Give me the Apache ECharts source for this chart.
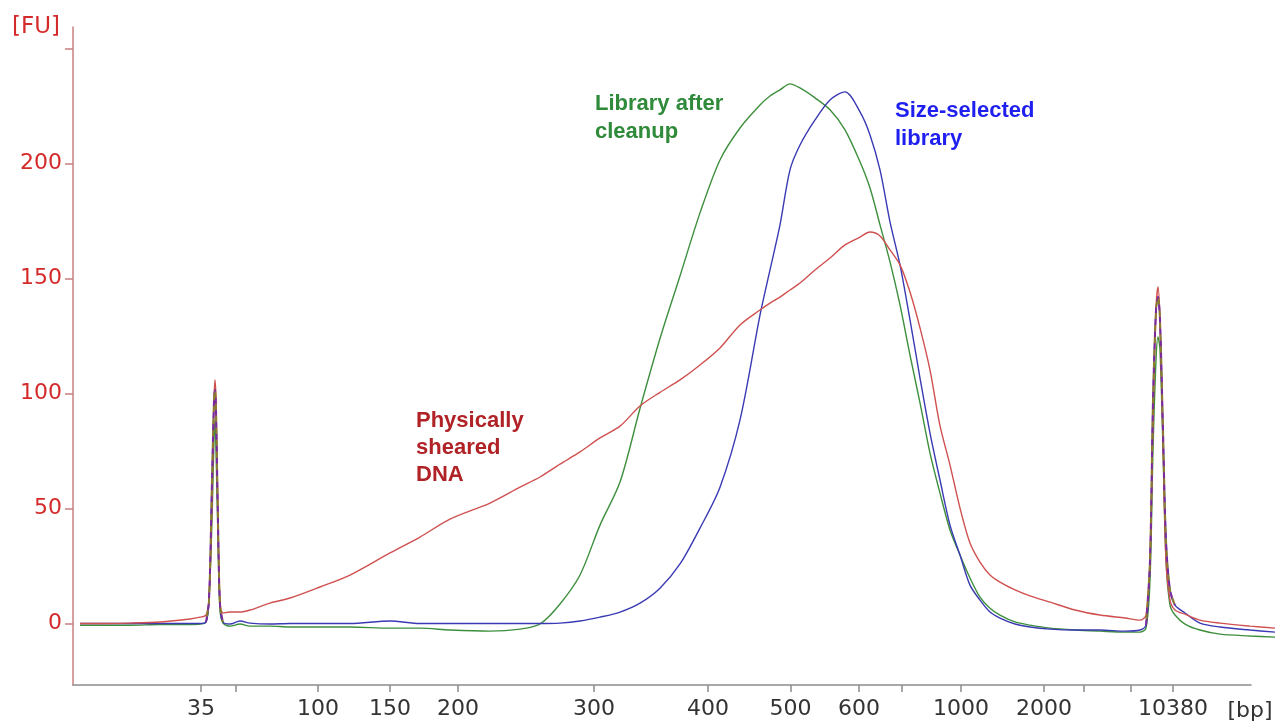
<!DOCTYPE html>
<html>
<head>
<meta charset="utf-8">
<script src="https://cdn.jsdelivr.net/npm/echarts@6/dist/echarts.min.js"></script>
<style>
html,body{margin:0;padding:0;background:#fff;}
#chart{width:1277px;height:725px;}
</style>
</head>
<body>
<div id="chart"></div>
<script>
// Migration position (data points along the run)
const dataPoints = [7,27,57,87,117,127,133,136,139,141,142,143,145,147,150,157,167,177,197,217,247,277,317,347,377,417,447,467,487,507,527,547,567,587,607,627,647,667,687,697,707,717,727,742,757,772,787,797,807,817,827,837,847,857,867,877,887,897,907,917,927,942,957,977,1002,1027,1052,1067,1073,1077,1080,1083,1085,1087,1090,1093,1097,1102,1112,1127,1147,1177,1202];

// Fluorescence [FU]
const shearedDNA = [0,0,0.2,0.7,2.0,2.8,3.7,10.2,53.7,97.2,105.9,97.2,45,10.2,4.6,5,5,5.9,8.9,11.1,15.9,21.1,30.7,37.6,45.4,52.4,59.3,63.7,69.3,74.6,80.7,85.8,94.6,100.5,105.9,112.4,119.8,129.8,136.3,139.3,141.9,145,148,153.7,158.9,164.6,168,170.2,168.5,162.4,155.9,144.1,128.5,110.2,86,68.9,50.2,35,26.7,21.1,18,14.6,12,9.3,5.9,3.7,2.4,1.5,3.7,27.6,88.5,136.3,146.3,132,79.8,27.6,10.2,5.9,4.1,1.5,0.2,-1.1,-2.0];

const libraryAfterCleanup = [-0.7,-0.7,-0.7,-0.4,-0.4,-0.2,0.7,10.2,45,79.8,88.5,75.4,36.3,5.9,0.2,-1.1,-0.2,-1.1,-1.1,-1.5,-1.5,-1.5,-2,-2,-2.8,-3.3,-2.4,-0.2,8.5,21.1,42.8,61.5,93.5,123.9,151.1,178.5,201.5,215.4,225.4,229.3,232,234.6,232.8,228.5,223.3,214.6,200.7,189.3,173.3,157.2,138.5,116.7,95.9,74.1,56.7,40.7,29.8,19.8,11.5,6.7,3.7,0.7,-0.7,-2,-2.8,-3.3,-3.7,-3.7,-2,18.9,75.4,114.6,124.6,118.9,75.4,27.6,8,3.7,-0.2,-2.8,-4.6,-5.4,-5.9];

const sizeSelectedLibrary = [0,0,0,0,0,0,0.7,10.2,62.4,97.2,101.5,92.8,45,8,0.7,-0.2,1.1,0.2,-0.2,0,0,0,1.1,0,0,0,0,0,0.2,1.1,2.8,5,8.9,15.4,25.9,41.5,59.3,88.5,134.1,153.7,173.3,197.2,208,218.9,227.6,231.1,222.4,212.4,197.2,174.6,155.9,132,106.7,82.8,62.4,42.8,29.8,16.7,10.2,5,2.4,-0.2,-1.5,-2.4,-2.8,-2.8,-3.3,-2.8,-0.7,27.6,97.2,136.3,141.9,132,84.1,36.3,14.6,8,4.6,0.2,-1.5,-2.8,-3.7];

// Size ladder tick marks on the bp axis
const tickPositions = [128,163,245,317,385,521,635,717.5,786,829,888,971,1011,1058,1100];
const tickLabels = ['35','','100','150','200','300','400','500','600','','1000','2000','','','10380'];

const yTicks = [0,50,100,150,200,250];
const yLabels = [0,50,100,150,200];

const pairs = (ys) => dataPoints.map((x, i) => [x, ys[i]]);
const ladderOnly = (ys) => dataPoints.map((x, i) =>
  ((x >= 130 && x <= 152) || (x >= 1072 && x <= 1104)) ? [x, ys[i]] : [x, null]);

const labelMap = {};
tickPositions.forEach((p, i) => { labelMap[p] = tickLabels[i]; });

const chart = echarts.init(document.getElementById('chart'), null, {renderer: 'canvas'});

const lineBase = {
  type: 'line', showSymbol: false, symbol: 'none', animation: false,
  clip: false, smooth: 0.3, silent: true,
  xAxisIndex: 0, yAxisIndex: 0
};

const Y_MIN = -26.7, Y_MAX = 259.3;

chart.setOption({
  backgroundColor: '#ffffff',
  animation: false,
  grid: [
    {left: 73, right: 0, top: 27, bottom: 40, containLabel: false},
    {left: 73, right: 26, top: 27, bottom: 40, containLabel: false}
  ],
  xAxis: [
    {type: 'value', gridIndex: 0, min: 0, max: 1204, show: false, splitLine: {show: false}},
    {
      type: 'value', gridIndex: 1, min: 0, max: 1178,
      axisLine: {show: true, onZero: false, lineStyle: {color: '#8c8c8c', width: 1.5}},
      axisTick: {show: true, customValues: tickPositions, length: 7, lineStyle: {color: '#8c8c8c', width: 1.5}},
      axisLabel: {
        customValues: tickPositions.filter((p, i) => tickLabels[i] !== ''),
        formatter: (v) => labelMap[v] || '',
        color: '#333333', fontFamily: 'DejaVu Sans', fontSize: 22, margin: 13
      },
      splitLine: {show: false}
    }
  ],
  yAxis: [
    {type: 'value', gridIndex: 0, min: Y_MIN, max: Y_MAX, show: false, splitLine: {show: false}},
    {
      type: 'value', gridIndex: 1, min: Y_MIN, max: Y_MAX,
      axisLine: {show: true, onZero: false, lineStyle: {color: '#c98080', width: 1.5}},
      axisTick: {show: true, customValues: yTicks, length: 8, lineStyle: {color: '#c98080', width: 1.5}},
      axisLabel: {
        customValues: yLabels,
        color: '#d42a2a', fontFamily: 'DejaVu Sans', fontSize: 22, margin: 11
      },
      splitLine: {show: false}
    }
  ],
  series: [
    Object.assign({}, lineBase, {name: 'Library after cleanup', data: pairs(libraryAfterCleanup),
      lineStyle: {color: '#3d8f3d', width: 1.4}, z: 2}),
    Object.assign({}, lineBase, {name: 'Size-selected library', data: pairs(sizeSelectedLibrary),
      lineStyle: {color: '#3a3ab4', width: 1.4}, z: 3}),
    Object.assign({}, lineBase, {name: 'Physically sheared DNA', data: pairs(shearedDNA),
      lineStyle: {color: '#d05050', width: 1.4}, z: 4}),
    Object.assign({}, lineBase, {name: 'Ladder A', data: ladderOnly(sizeSelectedLibrary), connectNulls: false,
      lineStyle: {color: '#7a2a9e', width: 2, type: [6, 6]}, z: 5}),
    Object.assign({}, lineBase, {name: 'Ladder B', data: ladderOnly(sizeSelectedLibrary), connectNulls: false,
      lineStyle: {color: '#8a7a30', width: 2, type: [6, 6], dashOffset: 6}, z: 5})
  ],
  graphic: [
    {type: 'text', x: 12, y: 27, style: {text: '[FU]', fill: '#d42a2a', font: '23px "DejaVu Sans"', textVerticalAlign: 'middle', textAlign: 'left'}},
    {type: 'text', x: 1250, y: 711, style: {text: '[bp]', fill: '#333333', font: '22px "DejaVu Sans"', textVerticalAlign: 'middle', textAlign: 'center'}},
    {type: 'text', x: 595, y: 104, style: {text: 'Library after', fill: '#2f8a3a', font: 'bold 22px "Liberation Sans"', textVerticalAlign: 'middle'}},
    {type: 'text', x: 595, y: 132, style: {text: 'cleanup', fill: '#2f8a3a', font: 'bold 22px "Liberation Sans"', textVerticalAlign: 'middle'}},
    {type: 'text', x: 895, y: 111, style: {text: 'Size-selected', fill: '#1f1ff0', font: 'bold 22px "Liberation Sans"', textVerticalAlign: 'middle'}},
    {type: 'text', x: 895, y: 139, style: {text: 'library', fill: '#1f1ff0', font: 'bold 22px "Liberation Sans"', textVerticalAlign: 'middle'}},
    {type: 'text', x: 416, y: 421, style: {text: 'Physically', fill: '#b02226', font: 'bold 22px "Liberation Sans"', textVerticalAlign: 'middle'}},
    {type: 'text', x: 416, y: 448, style: {text: 'sheared', fill: '#b02226', font: 'bold 22px "Liberation Sans"', textVerticalAlign: 'middle'}},
    {type: 'text', x: 416, y: 475, style: {text: 'DNA', fill: '#b02226', font: 'bold 22px "Liberation Sans"', textVerticalAlign: 'middle'}}
  ]
});
</script>
</body>
</html>
